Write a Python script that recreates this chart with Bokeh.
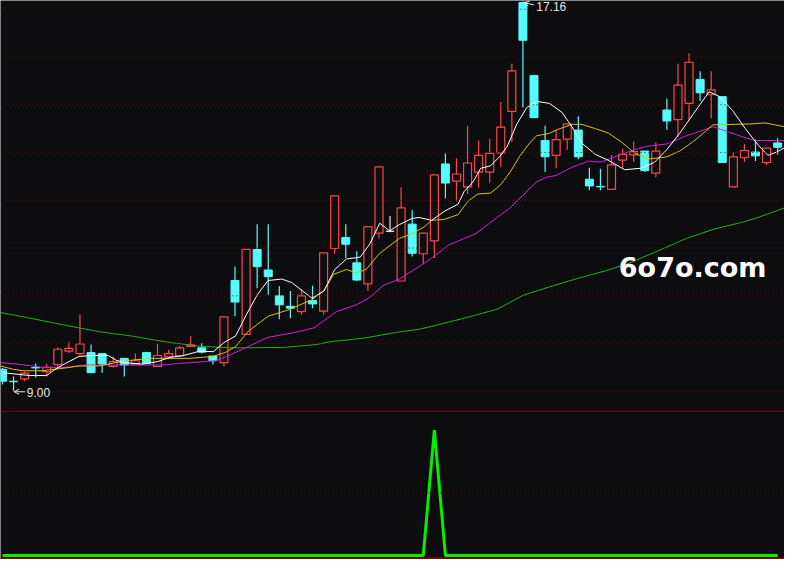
from bokeh.plotting import figure
from bokeh.models import ColumnDataSource, Span, Range1d, Arrow, OpenHead, Label
from bokeh.embed import file_html
from bokeh.resources import INLINE

# ---------------- data ----------------
opens = [9.46, 9.21, 9.26, 9.50, 9.41, 9.56, 9.84, 9.79, 9.81, 9.79,
         9.52, 9.69, 9.57, 9.81, 9.52, 9.72, 9.74, 9.94, 9.91, 9.74,
         9.60, 11.32, 10.19, 11.97, 11.54, 11.00, 10.78, 10.67, 10.90, 10.68,
         11.99, 12.22, 11.69, 11.25, 12.31, 12.35, 11.31, 12.50, 11.88, 12.15,
         13.76, 13.40, 13.28, 13.59, 13.59, 13.99, 14.86, 17.14, 15.61, 14.25,
         13.94, 14.28, 14.47, 13.44, 13.29, 13.23, 13.84, 13.95, 14.03, 13.57,
         14.89, 14.69, 15.03, 15.53, 15.21, 15.17, 13.28, 13.89, 14.01, 13.79,
         14.20]
highs = [9.49, 9.31, 9.41, 9.58, 9.57, 9.92, 10.04, 10.61, 9.98, 9.79,
         9.73, 9.69, 9.79, 9.83, 9.99, 9.87, 9.95, 10.16, 10.01, 9.74,
         10.56, 11.61, 11.97, 12.50, 12.50, 11.20, 11.10, 11.14, 11.21, 11.90,
         13.09, 12.50, 11.93, 12.45, 13.70, 12.67, 13.27, 12.79, 12.31, 13.53,
         13.98, 13.88, 14.56, 14.25, 14.29, 15.06, 15.86, 17.16, 15.61, 14.56,
         14.47, 14.61, 14.76, 13.68, 13.66, 13.95, 14.08, 14.23, 14.03, 14.21,
         15.13, 15.86, 16.08, 15.70, 15.70, 15.17, 14.01, 14.18, 14.27, 14.09,
         14.30]
lows = [9.14, 9.00, 9.21, 9.29, 9.31, 9.48, 9.80, 9.75, 9.39, 9.39,
        9.50, 9.31, 9.57, 9.58, 9.51, 9.72, 9.74, 9.92, 9.79, 9.56,
        9.52, 10.57, 10.19, 11.16, 11.02, 10.51, 10.53, 10.60, 10.74, 10.61,
        11.88, 11.79, 11.31, 11.10, 12.20, 12.33, 11.31, 11.82, 11.67, 11.79,
        13.04, 12.98, 13.13, 13.26, 13.37, 13.69, 14.22, 14.94, 14.73, 13.59,
        13.67, 14.06, 13.86, 13.21, 13.21, 13.23, 13.66, 13.80, 13.59, 13.48,
        14.47, 14.33, 14.67, 15.08, 14.71, 13.79, 13.28, 13.80, 13.82, 13.74,
        13.96]
closes = [9.21, 9.20, 9.38, 9.49, 9.50, 9.88, 9.90, 9.99, 9.39, 9.57,
          9.62, 9.55, 9.64, 9.58, 9.75, 9.79, 9.91, 9.97, 9.82, 9.64,
          10.56, 10.87, 11.97, 11.61, 11.40, 10.81, 10.74, 11.00, 10.83, 11.90,
          13.09, 12.08, 11.33, 12.45, 13.70, 12.35, 12.84, 11.89, 12.31, 13.53,
          13.36, 13.55, 13.78, 13.94, 13.98, 14.53, 15.71, 16.35, 14.73, 13.91,
          14.27, 14.60, 13.91, 13.30, 13.28, 13.74, 13.96, 14.02, 13.62, 14.03,
          14.66, 15.41, 15.89, 15.25, 15.31, 13.79, 13.91, 14.04, 13.93, 14.09,
          14.11]

# moving averages at (bar position, price)
ma5_x = [0, 2.48, 3.98, 4.69, 5.58, 6.9, 8.23, 9.56, 10.27, 11.06,
         12.65, 13.98, 15.13, 16.37, 17.79, 19.03, 20.0, 21.06, 22.04, 23.01,
         23.98, 25.22, 26.11, 26.99, 27.96, 29.03, 30.0, 31.06, 32.3, 33.19,
         34.07, 34.96, 35.84, 36.99, 37.61, 38.76, 39.91, 41.15, 41.68, 42.48,
         43.19, 44.07, 44.96, 45.58, 46.46, 47.35, 48.23, 49.38, 50.53, 51.42,
         52.3, 53.54, 54.69, 56.19, 57.61, 58.85, 60.0, 61.15, 62.39, 63.81,
         64.69, 65.93, 67.08, 68.23, 69.12, 69.91, 70.62]
ma5_y = [9.39, 9.33, 9.33, 9.45, 9.57, 9.73, 9.75, 9.75, 9.65, 9.60,
         9.57, 9.62, 9.71, 9.75, 9.84, 9.83, 10.02, 10.16, 10.61, 11.02,
         11.32, 11.35, 11.28, 11.12, 10.95, 11.10, 11.55, 11.77, 11.81, 12.09,
         12.52, 12.36, 12.49, 12.62, 12.64, 12.58, 12.77, 12.92, 13.18, 13.38,
         13.67, 13.72, 13.93, 14.13, 14.60, 14.94, 15.07, 15.03, 14.84, 14.54,
         14.20, 13.96, 13.84, 13.64, 13.67, 13.79, 14.06, 14.40, 14.81, 15.27,
         15.18, 14.88, 14.50, 14.16, 13.94, 14.01, 14.10]

ma10_x = [-0.18, 0.97, 1.86, 3.63, 4.25, 5.75, 6.9, 8.67, 10.18, 11.59,
          13.36, 15.13, 16.9, 19.03, 20.18, 21.06, 22.21, 23.98, 25.75, 27.88,
          29.03, 29.91, 31.06, 31.95, 32.83, 34.07, 35.84, 36.99, 38.14, 38.76,
          39.91, 41.15, 42.04, 42.92, 44.07, 44.96, 45.84, 46.73, 47.61, 48.23,
          49.38, 50.0, 51.42, 52.3, 53.54, 54.69, 55.84, 57.08, 58.23, 60.0,
          61.15, 62.39, 63.27, 64.16, 66.19, 67.7, 68.85, 69.73, 70.62]
ma10_y = [9.53, 9.46, 9.43, 9.43, 9.45, 9.49, 9.53, 9.53, 9.60, 9.65,
          9.69, 9.69, 9.69, 9.73, 9.82, 9.94, 10.26, 10.57, 10.70, 10.91,
          11.11, 11.45, 11.55, 11.48, 11.55, 11.89, 12.20, 12.30, 12.45, 12.58,
          12.60, 12.70, 12.98, 13.13, 13.15, 13.32, 13.59, 13.93, 14.20, 14.35,
          14.40, 14.47, 14.59, 14.59, 14.50, 14.41, 14.23, 13.99, 13.86, 13.91,
          14.03, 14.23, 14.40, 14.58, 14.59, 14.60, 14.62, 14.58, 14.54]

ma20_x = [-0.18, 1.33, 2.74, 3.63, 5.75, 7.52, 10.44, 14.6, 15.75, 18.14,
          19.29, 20.44, 21.95, 23.98, 26.37, 28.14, 30.18, 31.95, 33.19, 34.34,
          35.84, 37.88, 38.76, 40.27, 41.68, 42.74, 44.66, 45.84, 47.0, 48.2,
          49.09, 50.0, 51.42, 52.92, 54.07, 55.31, 57.08, 58.23, 60.0, 61.77,
          62.92, 64.16, 65.31, 66.81, 67.96, 70.62]
ma20_y = [9.60, 9.57, 9.53, 9.50, 9.50, 9.55, 9.55, 9.55, 9.58, 9.62,
          9.64, 9.75, 9.91, 10.13, 10.23, 10.33, 10.67, 10.81, 10.97, 11.21,
          11.35, 11.65, 11.79, 12.06, 12.20, 12.30, 12.64, 12.84, 13.11, 13.38,
          13.48, 13.52, 13.69, 13.82, 13.80, 13.91, 14.06, 14.13, 14.18, 14.35,
          14.44, 14.54, 14.45, 14.33, 14.25, 14.25]

ma60_x = [-0.18, 2.74, 5.75, 8.67, 11.59, 14.6, 17.52, 20.44, 21.95, 25.49,
          28.41, 29.65, 32.57, 35.49, 37.61, 38.76, 41.68, 44.69, 47.0, 50.0,
          52.04, 54.42, 56.46, 59.38, 61.77, 64.16, 66.81, 68.23, 70.62]
ma60_y = [10.65, 10.52, 10.38, 10.25, 10.16, 10.04, 9.95, 9.91, 9.91, 9.92,
          9.98, 10.04, 10.11, 10.23, 10.30, 10.36, 10.53, 10.72, 11.01, 11.23,
          11.37, 11.52, 11.67, 11.96, 12.20, 12.39, 12.54, 12.64, 12.84]

# lower indicator panel (one signal bar)
signal = [0, 0, 0, 0, 0, 0, 0, 0, 0, 0,
          0, 0, 0, 0, 0, 0, 0, 0, 0, 0,
          0, 0, 0, 0, 0, 0, 0, 0, 0, 0,
          0, 0, 0, 0, 0, 0, 0, 0, 0, 1,
          0, 0, 0, 0, 0, 0, 0, 0, 0, 0,
          0, 0, 0, 0, 0, 0, 0, 0, 0, 0,
          0, 0, 0, 0, 0, 0, 0, 0, 0, 0,
          0]

price_grid = [9, 10, 11, 12, 13, 14, 15, 16, 17]
signal_grid = [0.5]
watermark = "6o7o.com"

# ---------------- styling ----------------
BG = "#0d0d10"
RED = "#ff4646"
CYAN = "#54fcfc"
FLAT = "#e8e8e8"
GRID = "#800000"
DARKRED = "#800000"
TXT = "#e4e4e4"

W = 784
H = 559

p = figure(width=W, height=H, x_range=Range1d(-0.177, 70.62),
           y_range=Range1d(5.478, 17.183),
           output_backend="svg", toolbar_location=None, min_border=0,
           x_axis_location=None, y_axis_location=None,
           background_fill_color=BG, border_fill_color=BG, outline_line_color=None)
p.extra_y_ranges = {"sig": Range1d(-0.031, 4.426)}
p.xgrid.visible = False
p.ygrid.visible = False

for lvl in price_grid:
    p.add_layout(Span(location=lvl, dimension="width", line_color=GRID,
                      line_dash="1 3", line_width=1))

# panel separators (indicator pane frame)
p.add_layout(Span(location=1.149, dimension="width", y_range_name="sig",
                  line_color=DARKRED, line_width=1))
for lvl in signal_grid:
    p.add_layout(Span(location=lvl, dimension="width", y_range_name="sig",
                      line_color=GRID, line_dash="1 3", line_width=1))
p.add_layout(Span(location=-0.021, dimension="width", y_range_name="sig",
                  line_color=DARKRED, line_width=2))

n = len(opens)
kind = ["up" if c > o else ("down" if c < o else "flat") for o, c in zip(opens, closes)]


def make_src(k):
    ii = [i for i in range(n) if kind[i] == k]
    return ColumnDataSource(dict(
        x=ii,
        h=[highs[i] for i in ii],
        l=[lows[i] for i in ii],
        top=[max(opens[i], closes[i]) for i in ii],
        bot=[min(opens[i], closes[i]) for i in ii],
    ))


BW = 0.72
s_up = make_src("up")
s_dn = make_src("down")
s_fl = make_src("flat")

p.segment(x0="x", y0="h", x1="x", y1="l", source=s_up, line_color=RED, line_width=1.2)
p.vbar(x="x", top="top", bottom="bot", width=BW, source=s_up,
       fill_color=BG, line_color=RED, line_width=1.2)
p.segment(x0="x", y0="h", x1="x", y1="l", source=s_dn, line_color=CYAN, line_width=1.2)
p.vbar(x="x", top="top", bottom="bot", width=BW, source=s_dn,
       fill_color=CYAN, line_color=CYAN, line_width=1)
p.segment(x0="x", y0="h", x1="x", y1="l", source=s_fl, line_color=FLAT, line_width=1.2)
p.vbar(x="x", top="top", bottom="bot", width=BW, source=s_fl,
       fill_color=FLAT, line_color=FLAT, line_width=1)

p.line(ma60_x, ma60_y, line_color="#1fb21f", line_width=1)
p.line(ma20_x, ma20_y, line_color="#d81ed8", line_width=1)
p.line(ma10_x, ma10_y, line_color="#e0c000", line_width=1)
p.line(ma5_x, ma5_y, line_color="#ffffff", line_width=1)

# extreme labels
i_lo = lows.index(min(lows))
i_hi = highs.index(max(highs))
p.add_layout(Arrow(end=OpenHead(size=5, line_color=TXT, line_width=1),
                   x_start=i_lo + 1.05, y_start=min(lows) - 0.01,
                   x_end=i_lo + 0.05, y_end=min(lows) - 0.01,
                   line_color=TXT, line_width=1))
p.add_layout(Label(x=i_lo + 1.2, y=min(lows) - 0.03, text=f"{min(lows):.2f}",
                   text_font="Liberation Sans", text_font_size="12px",
                   text_color=TXT, text_baseline="middle", text_align="left"))
p.add_layout(Arrow(end=OpenHead(size=5, line_color=TXT, line_width=1),
                   x_start=i_hi + 1.0, y_start=max(highs) - 0.07,
                   x_end=i_hi + 0.1, y_end=max(highs) - 0.02,
                   line_color=TXT, line_width=1))
p.add_layout(Label(x=i_hi + 1.2, y=max(highs) - 0.11, text=f"{max(highs):.2f}",
                   text_font="Liberation Sans", text_font_size="12px",
                   text_color=TXT, text_baseline="middle", text_align="left"))

p.add_layout(Label(x=55.66, y=11.585, text=watermark,
                   text_font="DejaVu Sans", text_font_style="bold",
                   text_font_size="27px", text_color="#ffffff",
                   text_baseline="alphabetic", text_align="left"))

# indicator line
p.line(list(range(n)), signal, y_range_name="sig", line_color="#00f000", line_width=3)

open("out.html", "w").write(file_html(p, INLINE, title="chart"))
